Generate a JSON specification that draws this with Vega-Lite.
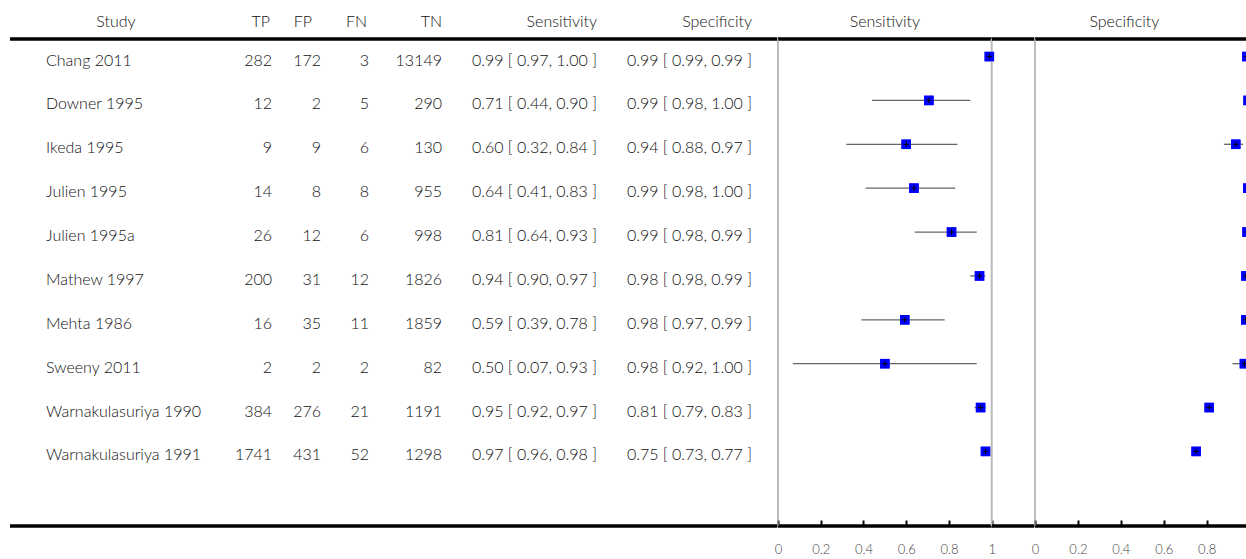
{
  "$schema": "https://vega.github.io/schema/vega-lite/v6.json",
  "padding": {"left": 8, "top": 14, "right": 0, "bottom": 36},
  "spacing": 0,
  "bounds": "flush",
  "config": {
    "view": {"stroke": null},
    "font": "Lato",
    "title": {"fontSize": 16, "fontWeight": 300, "color": "#111", "offset": 7, "frame": "group", "font": "Lato"},
    "text": {"font": "Lato", "fontSize": 16, "fontWeight": 300, "color": "#111"}
  },
  "data": {"values": [
    {"Study": "Chang 2011", "TP": 282, "FP": 172, "FN": 3, "TN": 13149, "sens": 0.989, "sens_lo": 0.97, "sens_hi": 1.00, "spec": 0.987, "spec_lo": 0.99, "spec_hi": 0.99},
    {"Study": "Downer 1995", "TP": 12, "FP": 2, "FN": 5, "TN": 290, "sens": 0.706, "sens_lo": 0.44, "sens_hi": 0.90, "spec": 0.993, "spec_lo": 0.98, "spec_hi": 1.00},
    {"Study": "Ikeda 1995", "TP": 9, "FP": 9, "FN": 6, "TN": 130, "sens": 0.600, "sens_lo": 0.32, "sens_hi": 0.84, "spec": 0.9353, "spec_lo": 0.88, "spec_hi": 0.97},
    {"Study": "Julien 1995", "TP": 14, "FP": 8, "FN": 8, "TN": 955, "sens": 0.636, "sens_lo": 0.41, "sens_hi": 0.83, "spec": 0.992, "spec_lo": 0.98, "spec_hi": 1.00},
    {"Study": "Julien 1995a", "TP": 26, "FP": 12, "FN": 6, "TN": 998, "sens": 0.812, "sens_lo": 0.64, "sens_hi": 0.93, "spec": 0.988, "spec_lo": 0.98, "spec_hi": 0.99},
    {"Study": "Mathew 1997", "TP": 200, "FP": 31, "FN": 12, "TN": 1826, "sens": 0.943, "sens_lo": 0.90, "sens_hi": 0.97, "spec": 0.983, "spec_lo": 0.98, "spec_hi": 0.99},
    {"Study": "Mehta 1986", "TP": 16, "FP": 35, "FN": 11, "TN": 1859, "sens": 0.593, "sens_lo": 0.39, "sens_hi": 0.78, "spec": 0.982, "spec_lo": 0.97, "spec_hi": 0.99},
    {"Study": "Sweeny 2011", "TP": 2, "FP": 2, "FN": 2, "TN": 82, "sens": 0.500, "sens_lo": 0.07, "sens_hi": 0.93, "spec": 0.976, "spec_lo": 0.92, "spec_hi": 1.00},
    {"Study": "Warnakulasuriya 1990", "TP": 384, "FP": 276, "FN": 21, "TN": 1191, "sens": 0.948, "sens_lo": 0.92, "sens_hi": 0.97, "spec": 0.812, "spec_lo": 0.79, "spec_hi": 0.83},
    {"Study": "Warnakulasuriya 1991", "TP": 1741, "FP": 431, "FN": 52, "TN": 1298, "sens": 0.971, "sens_lo": 0.96, "sens_hi": 0.98, "spec": 0.751, "spec_lo": 0.73, "spec_hi": 0.77}
  ]},
  "transform": [
    {"window": [{"op": "row_number", "as": "row"}]},
    {"calculate": "format(datum.sens, '.2f') + ' [ ' + format(datum.sens_lo, '.2f') + ', ' + format(datum.sens_hi, '.2f') + ' ]'", "as": "sens_ci"},
    {"calculate": "format(datum.spec, '.2f') + ' [ ' + format(datum.spec_lo, '.2f') + ', ' + format(datum.spec_hi, '.2f') + ' ]'", "as": "spec_ci"}
  ],
  "hconcat": [
    {
      "width": 212, "height": 487, "title": {"text": "Study", "anchor": "middle"},
      "layer": [
        {"data": {"values": [{}]}, "mark": {"type": "rule", "color": "#000", "strokeWidth": 3.5}, "encoding": {"y": {"datum": 0.6, "type": "quantitative", "scale": {"domain": [0.6, 11.7], "reverse": true, "nice": false, "zero": false}, "axis": null}}},
        {"data": {"values": [{}]}, "mark": {"type": "rule", "color": "#000", "strokeWidth": 3.5}, "encoding": {"y": {"datum": 11.7, "type": "quantitative", "axis": null}}},
        {"mark": {"type": "text", "align": "left", "baseline": "middle", "dx": 36, "dy": 4}, "encoding": {"x": {"value": 0}, "y": {"field": "row", "type": "quantitative", "axis": null}, "text": {"field": "Study", "type": "nominal"}}}
      ]
    },
    {
      "width": 50, "height": 487, "title": {"text": "TP", "anchor": "end", "dx": -2},
      "layer": [
        {"data": {"values": [{}]}, "mark": {"type": "rule", "color": "#000", "strokeWidth": 3.5}, "encoding": {"y": {"datum": 0.6, "type": "quantitative", "scale": {"domain": [0.6, 11.7], "reverse": true, "nice": false, "zero": false}, "axis": null}}},
        {"data": {"values": [{}]}, "mark": {"type": "rule", "color": "#000", "strokeWidth": 3.5}, "encoding": {"y": {"datum": 11.7, "type": "quantitative", "axis": null}}},
        {"mark": {"type": "text", "align": "right", "baseline": "middle", "dy": 4}, "encoding": {"x": {"value": "width"}, "y": {"field": "row", "type": "quantitative", "axis": null}, "text": {"field": "TP", "type": "nominal"}}}
      ]
    },
    {
      "width": 49, "height": 487, "title": {"text": "FP", "anchor": "end", "dx": -9},
      "layer": [
        {"data": {"values": [{}]}, "mark": {"type": "rule", "color": "#000", "strokeWidth": 3.5}, "encoding": {"y": {"datum": 0.6, "type": "quantitative", "scale": {"domain": [0.6, 11.7], "reverse": true, "nice": false, "zero": false}, "axis": null}}},
        {"data": {"values": [{}]}, "mark": {"type": "rule", "color": "#000", "strokeWidth": 3.5}, "encoding": {"y": {"datum": 11.7, "type": "quantitative", "axis": null}}},
        {"mark": {"type": "text", "align": "right", "baseline": "middle", "dy": 4}, "encoding": {"x": {"value": "width"}, "y": {"field": "row", "type": "quantitative", "axis": null}, "text": {"field": "FP", "type": "nominal"}}}
      ]
    },
    {
      "width": 48, "height": 487, "title": {"text": "FN", "anchor": "end", "dx": -2},
      "layer": [
        {"data": {"values": [{}]}, "mark": {"type": "rule", "color": "#000", "strokeWidth": 3.5}, "encoding": {"y": {"datum": 0.6, "type": "quantitative", "scale": {"domain": [0.6, 11.7], "reverse": true, "nice": false, "zero": false}, "axis": null}}},
        {"data": {"values": [{}]}, "mark": {"type": "rule", "color": "#000", "strokeWidth": 3.5}, "encoding": {"y": {"datum": 11.7, "type": "quantitative", "axis": null}}},
        {"mark": {"type": "text", "align": "right", "baseline": "middle", "dy": 4}, "encoding": {"x": {"value": "width"}, "y": {"field": "row", "type": "quantitative", "axis": null}, "text": {"field": "FN", "type": "nominal"}}}
      ]
    },
    {
      "width": 73, "height": 487, "title": {"text": "TN", "anchor": "end"},
      "layer": [
        {"data": {"values": [{}]}, "mark": {"type": "rule", "color": "#000", "strokeWidth": 3.5}, "encoding": {"y": {"datum": 0.6, "type": "quantitative", "scale": {"domain": [0.6, 11.7], "reverse": true, "nice": false, "zero": false}, "axis": null}}},
        {"data": {"values": [{}]}, "mark": {"type": "rule", "color": "#000", "strokeWidth": 3.5}, "encoding": {"y": {"datum": 11.7, "type": "quantitative", "axis": null}}},
        {"mark": {"type": "text", "align": "right", "baseline": "middle", "dy": 4}, "encoding": {"x": {"value": "width"}, "y": {"field": "row", "type": "quantitative", "axis": null}, "text": {"field": "TN", "type": "nominal"}}}
      ]
    },
    {
      "width": 155, "height": 487, "title": {"text": "Sensitivity", "anchor": "end"},
      "layer": [
        {"data": {"values": [{}]}, "mark": {"type": "rule", "color": "#000", "strokeWidth": 3.5}, "encoding": {"y": {"datum": 0.6, "type": "quantitative", "scale": {"domain": [0.6, 11.7], "reverse": true, "nice": false, "zero": false}, "axis": null}}},
        {"data": {"values": [{}]}, "mark": {"type": "rule", "color": "#000", "strokeWidth": 3.5}, "encoding": {"y": {"datum": 11.7, "type": "quantitative", "axis": null}}},
        {"mark": {"type": "text", "align": "right", "baseline": "middle", "dy": 4}, "encoding": {"x": {"value": "width"}, "y": {"field": "row", "type": "quantitative", "axis": null}, "text": {"field": "sens_ci", "type": "nominal"}}}
      ]
    },
    {
      "width": 155, "height": 487, "title": {"text": "Specificity", "anchor": "end"},
      "layer": [
        {"data": {"values": [{}]}, "mark": {"type": "rule", "color": "#000", "strokeWidth": 3.5}, "encoding": {"y": {"datum": 0.6, "type": "quantitative", "scale": {"domain": [0.6, 11.7], "reverse": true, "nice": false, "zero": false}, "axis": null}}},
        {"data": {"values": [{}]}, "mark": {"type": "rule", "color": "#000", "strokeWidth": 3.5}, "encoding": {"y": {"datum": 11.7, "type": "quantitative", "axis": null}}},
        {"mark": {"type": "text", "align": "right", "baseline": "middle", "dy": 4}, "encoding": {"x": {"value": "width"}, "y": {"field": "row", "type": "quantitative", "axis": null}, "text": {"field": "spec_ci", "type": "nominal"}}}
      ]
    },
    {
      "width": 25.3, "height": 487,
      "layer": [
        {"data": {"values": [{}]}, "mark": {"type": "rule", "color": "#000", "strokeWidth": 3.5}, "encoding": {"y": {"datum": 0.6, "type": "quantitative", "scale": {"domain": [0.6, 11.7], "reverse": true, "nice": false, "zero": false}, "axis": null}}},
        {"data": {"values": [{}]}, "mark": {"type": "rule", "color": "#000", "strokeWidth": 3.5}, "encoding": {"y": {"datum": 11.7, "type": "quantitative", "axis": null}}}
      ]
    },
    {
      "width": 213.7, "height": 487, "title": {"text": "Sensitivity", "anchor": "middle"},
      "layer": [
        {"mark": {"type": "point", "shape": "square", "filled": true, "color": "#0000ff", "size": 90, "opacity": 1}, "encoding": {
          "x": {"field": "sens", "type": "quantitative", "scale": {"domain": [0, 1], "nice": false, "zero": false},
            "axis": {"orient": "bottom", "values": [0, 0.2, 0.4, 0.6, 0.8, 1], "format": "~g", "domain": false, "grid": false, "ticks": true, "tickColor": "#000", "tickWidth": 2, "tickSize": 6, "offset": -6, "labelColor": "#444", "labelFontSize": 13, "labelFont": "Lato", "labelFontWeight": 300, "labelPadding": 17, "title": null, "labelFlush": false}},
          "y": {"field": "row", "type": "quantitative", "scale": {"domain": [0.6, 11.7], "reverse": true, "nice": false, "zero": false}, "axis": null}}},
        {"data": {"values": [{}]}, "mark": {"type": "rule", "color": "#000", "strokeWidth": 3.5}, "encoding": {"y": {"datum": 0.6, "type": "quantitative", "axis": null}}},
        {"data": {"values": [{}]}, "mark": {"type": "rule", "color": "#000", "strokeWidth": 3.5}, "encoding": {"y": {"datum": 11.7, "type": "quantitative", "axis": null}}},
        {"data": {"values": [{}]}, "mark": {"type": "rule", "color": "#999", "strokeWidth": 1.3}, "encoding": {"x": {"datum": 0, "type": "quantitative"}}},
        {"data": {"values": [{}]}, "mark": {"type": "rule", "color": "#bbb", "strokeWidth": 2}, "encoding": {"x": {"datum": 1, "type": "quantitative"}}},
        {"mark": {"type": "rule", "color": "#666", "strokeWidth": 1.3}, "encoding": {"x": {"field": "sens_lo", "type": "quantitative"}, "x2": {"field": "sens_hi"}, "y": {"field": "row", "type": "quantitative"}}},
        {"mark": {"type": "point", "shape": "square", "filled": true, "color": "#0000ff", "size": 90, "opacity": 1}, "encoding": {"x": {"field": "sens", "type": "quantitative"}, "y": {"field": "row", "type": "quantitative"}}},
        {"mark": {"type": "point", "shape": "M-1,0L1,0M0,-1L0,1", "filled": false, "color": "#000", "strokeWidth": 1, "size": 30, "opacity": 1}, "encoding": {"x": {"field": "sens", "type": "quantitative"}, "y": {"field": "row", "type": "quantitative"}}}
      ]
    },
    {
      "width": 42.3, "height": 487,
      "layer": [
        {"data": {"values": [{}]}, "mark": {"type": "rule", "color": "#000", "strokeWidth": 3.5}, "encoding": {"y": {"datum": 0.6, "type": "quantitative", "scale": {"domain": [0.6, 11.7], "reverse": true, "nice": false, "zero": false}, "axis": null}}},
        {"data": {"values": [{}]}, "mark": {"type": "rule", "color": "#000", "strokeWidth": 3.5}, "encoding": {"y": {"datum": 11.7, "type": "quantitative", "axis": null}}}
      ]
    },
    {
      "width": 214.6, "height": 487, "title": {"text": "Specificity", "anchor": "middle", "dx": -18},
      "layer": [
        {"mark": {"type": "point", "shape": "square", "filled": true, "color": "#0000ff", "size": 90, "opacity": 1}, "encoding": {
          "x": {"field": "spec", "type": "quantitative", "scale": {"domain": [0, 1], "nice": false, "zero": false},
            "axis": {"orient": "bottom", "values": [0, 0.2, 0.4, 0.6, 0.8], "format": "~g", "domain": false, "grid": false, "ticks": true, "tickColor": "#000", "tickWidth": 2, "tickSize": 6, "offset": -6, "labelColor": "#444", "labelFontSize": 13, "labelFont": "Lato", "labelFontWeight": 300, "labelPadding": 17, "title": null, "labelFlush": false}},
          "y": {"field": "row", "type": "quantitative", "scale": {"domain": [0.6, 11.7], "reverse": true, "nice": false, "zero": false}, "axis": null}}},
        {"data": {"values": [{}]}, "mark": {"type": "rule", "color": "#000", "strokeWidth": 3.5}, "encoding": {"y": {"datum": 0.6, "type": "quantitative", "axis": null}}},
        {"data": {"values": [{}]}, "mark": {"type": "rule", "color": "#000", "strokeWidth": 3.5}, "encoding": {"y": {"datum": 11.7, "type": "quantitative", "axis": null}}},
        {"data": {"values": [{}]}, "mark": {"type": "rule", "color": "#999", "strokeWidth": 1.3}, "encoding": {"x": {"datum": 0, "type": "quantitative"}}},
        {"mark": {"type": "rule", "color": "#666", "strokeWidth": 1.3}, "encoding": {"x": {"field": "spec_lo", "type": "quantitative"}, "x2": {"field": "spec_hi"}, "y": {"field": "row", "type": "quantitative"}}},
        {"mark": {"type": "point", "shape": "square", "filled": true, "color": "#0000ff", "size": 90, "opacity": 1}, "encoding": {"x": {"field": "spec", "type": "quantitative"}, "y": {"field": "row", "type": "quantitative"}}},
        {"mark": {"type": "point", "shape": "M-1,0L1,0M0,-1L0,1", "filled": false, "color": "#000", "strokeWidth": 1, "size": 30, "opacity": 1}, "encoding": {"x": {"field": "spec", "type": "quantitative"}, "y": {"field": "row", "type": "quantitative"}}}
      ]
    }
  ]
}
